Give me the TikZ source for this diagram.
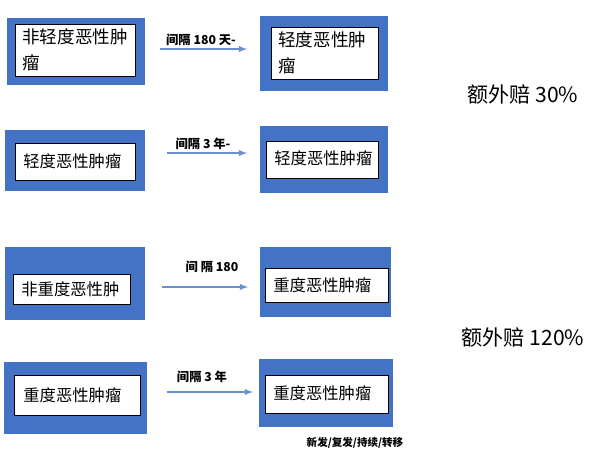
\documentclass[tikz,border=0pt]{standalone}
\usepackage{fontspec}
\newfontfamily\cjk{Noto Sans CJK SC}
\definecolor{boxblue}{HTML}{4472C4}
\definecolor{arrowblue}{HTML}{6A8FCB}
\begin{document}
\begin{tikzpicture}[x=0.02cm,y=-0.02cm,>=latex,font=\cjk]
\tikzset{
  outer/.style={fill=boxblue,draw=none,inner sep=0pt},
  inner/.style={fill=white,draw=black,thin,inner sep=0pt},
  boxtext/.style={font=\cjk\fontsize{9.3}{13}\selectfont,align=left,anchor=west,inner sep=0pt},
  bigtext/.style={boxtext,font=\cjk\fontsize{10}{14.5}\selectfont},
  gap/.style={->,arrowblue,semithick},
  gaplabel/.style={font=\cjk\fontsize{7}{8}\selectfont\bfseries},
  extra/.style={font=\cjk\fontsize{12}{14}\selectfont}
}
\useasboundingbox (0,0) rectangle (600,461);

% row 1
\node (o1a) [outer,minimum width=138*0.02cm,minimum height=67*0.02cm] at (76,51.5) {};
\node (i1a) [inner,minimum width=120*0.02cm,minimum height=52*0.02cm] at (75,50) {};
\node [bigtext,text width=112*0.02cm] at (22,50) {非轻度恶性肿\\瘤};
\node (o1b) [outer,minimum width=128*0.02cm,minimum height=75*0.02cm] at (324,53.5) {};
\node (i1b) [inner,minimum width=107*0.02cm,minimum height=52*0.02cm] at (324.5,53) {};
\node [bigtext,text width=100*0.02cm] at (278,53) {轻度恶性肿\\瘤};
\coordinate (s1) at (160,49);
\coordinate (e1) at (247,49);
\draw [gap] (s1) -- (e1);
\node [gaplabel] at (201,40) {间隔 180 天-};

% row 2
\node (o2a) [outer,minimum width=140*0.02cm,minimum height=61*0.02cm] at (75,160.5) {};
\node (i2a) [inner,minimum width=120*0.02cm,minimum height=37*0.02cm] at (75,161.5) {};
\node [boxtext] at (23,161.5) {轻度恶性肿瘤};
\node (o2b) [outer,minimum width=128*0.02cm,minimum height=67*0.02cm] at (324,159.5) {};
\node (i2b) [inner,minimum width=112*0.02cm,minimum height=37*0.02cm] at (322,159.5) {};
\node [boxtext] at (274,158) {轻度恶性肿瘤};
\coordinate (s2) at (167,153);
\coordinate (e2) at (247,153);
\draw [gap] (s2) -- (e2);
\node [gaplabel] at (203,144) {间隔 3 年-};

% row 3
\node (o3a) [outer,minimum width=140*0.02cm,minimum height=73*0.02cm] at (75,283.5) {};
\node (i3a) [inner,minimum width=117*0.02cm,minimum height=30*0.02cm] at (71.5,289) {};
\node [boxtext] at (21,289) {非重度恶性肿};
\node (o3b) [outer,minimum width=131*0.02cm,minimum height=70*0.02cm] at (325.5,282) {};
\node (i3b) [inner,minimum width=123*0.02cm,minimum height=34*0.02cm] at (326.5,285) {};
\node [boxtext] at (273,285) {重度恶性肿瘤};
\coordinate (s3) at (162,287);
\coordinate (e3) at (248,287);
\draw [gap] (s3) -- (e3);
\node [gaplabel] at (212,267) {间 隔 180};

% row 4
\node (o4a) [outer,minimum width=143*0.02cm,minimum height=72*0.02cm] at (75.5,398) {};
\node (i4a) [inner,minimum width=126*0.02cm,minimum height=40*0.02cm] at (77,395) {};
\node [boxtext] at (23,395) {重度恶性肿瘤};
\node (o4b) [outer,minimum width=134*0.02cm,minimum height=68*0.02cm] at (326,393) {};
\node (i4b) [inner,minimum width=123*0.02cm,minimum height=38*0.02cm] at (326.5,394) {};
\node [boxtext] at (273,393) {重度恶性肿瘤};
\coordinate (s4) at (167,392);
\coordinate (e4) at (253,392);
\draw [gap] (s4) -- (e4);
\node [gaplabel] at (202,377) {间隔 3 年};

% notes
\node [extra] at (523,95) {额外赔 30\%};
\node [extra] at (523,338) {额外赔 120\%};
\node [gaplabel,font=\cjk\fontsize{6}{7}\selectfont\bfseries] at (355,443) {新发/复发/持续/转移};
\end{tikzpicture}
\end{document}
